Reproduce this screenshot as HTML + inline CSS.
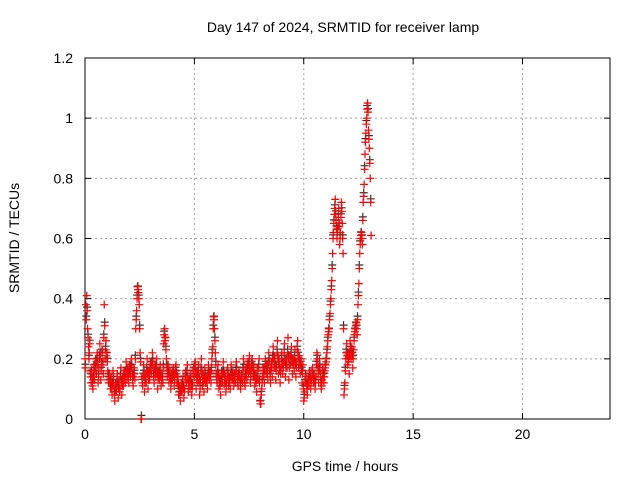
<!DOCTYPE html>
<html><head><meta charset="utf-8"><style>
body{margin:0;background:#fff}
svg text{font-family:"Liberation Sans",sans-serif;font-size:14px;fill:#000}
</style></head><body>
<svg id="c" width="640" height="480"></svg>
<script>
const xTicks=[0,5,10,15,20];
const yTicks=[0,0.2,0.4,0.6,0.8,1,1.2];
const yTickLabels=["0","0.2","0.4","0.6","0.8","1","1.2"];
const startHour=0, stepHour=0.04, startHour2=0.02;
const tecu=[
0.2,0.38,0.41,0.3,0.24,0.22,0.16,0.12,0.14,0.1,0.18,0.13,0.2,0.15,0.22,0.12,0.17,0.25,0.13,0.19,0.23,0.15,0.38,0.2,0.26,
0.22,0.16,0.12,0.15,0.1,0.14,0.08,0.16,0.11,0.06,0.12,0.09,0.15,0.07,0.13,0.1,0.17,0.08,0.14,0.11,0.16,0.12,0.19,0.13,0.17,
0.12,0.18,0.14,0.2,0.15,0.11,0.17,0.13,0.3,0.36,0.44,0.42,0.38,0.22,0.0,0.14,0.11,0.18,0.09,0.15,0.12,0.2,0.1,0.16,0.13,
0.19,0.15,0.22,0.17,0.12,0.18,0.14,0.2,0.1,0.16,0.13,0.18,0.11,0.15,0.12,0.25,0.3,0.27,0.2,0.14,0.18,0.12,0.16,0.1,0.15,
0.13,0.17,0.11,0.15,0.18,0.12,0.14,0.08,0.11,0.06,0.12,0.09,0.14,0.07,0.1,0.16,0.12,0.18,0.09,0.13,0.1,0.15,0.08,0.12,0.17,
0.14,0.19,0.1,0.16,0.12,0.18,0.08,0.13,0.2,0.11,0.15,0.09,0.17,0.12,0.14,0.1,0.18,0.13,0.16,0.12,0.2,0.24,0.34,0.3,0.22,
0.15,0.12,0.18,0.1,0.14,0.08,0.16,0.12,0.19,0.11,0.15,0.09,0.13,0.17,0.11,0.14,0.1,0.18,0.13,0.16,0.11,0.15,0.12,0.19,0.14,
0.11,0.16,0.13,0.1,0.15,0.12,0.2,0.14,0.11,0.17,0.13,0.19,0.15,0.21,0.12,0.16,0.2,0.14,0.18,0.11,0.15,0.09,0.17,0.13,0.2,
0.06,0.05,0.1,0.14,0.17,0.12,0.2,0.15,0.18,0.13,0.22,0.16,0.12,0.19,0.14,0.24,0.17,0.21,0.13,0.18,0.26,0.15,0.2,0.12,0.17,
0.22,0.15,0.19,0.25,0.14,0.2,0.17,0.27,0.13,0.21,0.18,0.24,0.15,0.2,0.16,0.23,0.14,0.19,0.26,0.17,0.21,0.15,0.2,0.12,0.18,
0.06,0.09,0.15,0.12,0.08,0.14,0.11,0.16,0.1,0.13,0.17,0.12,0.15,0.1,0.14,0.22,0.18,0.12,0.2,0.15,0.1,0.13,0.17,0.12,0.16,
0.18,0.2,0.24,0.28,0.3,0.35,0.4,0.46,0.55,0.62,0.68,0.73,0.66,0.6,0.64,0.7,0.58,0.62,0.72,0.65,0.55,0.08,0.12,0.2,0.25,
0.18,0.22,0.15,0.26,0.2,0.24,0.17,0.23,0.28,0.3,0.32,0.28,0.38,0.45,0.55,0.6,0.62,0.58,0.72,0.78,0.88,0.95,1.0,1.05,0.96,
0.9,0.8,0.61];
const tecu2=[
0.17,0.33,0.36,0.27,0.2,0.25,0.14,0.15,0.11,0.13,0.15,0.17,0.16,0.19,0.18,0.14,0.2,0.21,0.16,0.22,0.18,0.27,0.31,0.23,0.21,
0.19,0.13,0.14,0.12,0.12,0.1,0.11,0.13,0.08,0.09,0.1,0.12,0.11,0.1,0.09,0.14,0.12,0.11,0.12,0.14,0.13,0.15,0.16,0.15,0.14,
0.15,0.16,0.17,0.17,0.13,0.14,0.15,0.2,0.33,0.4,0.43,0.4,0.3,0.19,0.0,0.12,0.14,0.15,0.12,0.13,0.16,0.15,0.13,0.14,0.16,
0.17,0.18,0.19,0.14,0.15,0.16,0.17,0.15,0.13,0.14,0.15,0.14,0.13,0.13,0.17,0.28,0.26,0.23,0.17,0.16,0.15,0.14,0.13,0.12,0.14,
0.15,0.14,0.13,0.16,0.15,0.13,0.11,0.09,0.08,0.09,0.1,0.11,0.1,0.09,0.13,0.14,0.15,0.13,0.11,0.12,0.13,0.11,0.1,0.15,0.16,
0.17,0.15,0.13,0.14,0.15,0.13,0.1,0.16,0.15,0.13,0.12,0.13,0.14,0.13,0.12,0.14,0.15,0.14,0.14,0.16,0.22,0.3,0.33,0.26,0.18,
0.13,0.15,0.14,0.12,0.11,0.12,0.14,0.15,0.15,0.13,0.12,0.11,0.15,0.14,0.12,0.12,0.14,0.15,0.14,0.13,0.13,0.14,0.16,0.16,0.12,
0.14,0.14,0.11,0.13,0.13,0.16,0.17,0.12,0.14,0.15,0.16,0.17,0.18,0.16,0.14,0.18,0.17,0.16,0.14,0.13,0.12,0.13,0.15,0.17,0.12,
0.05,0.08,0.12,0.16,0.14,0.16,0.18,0.17,0.15,0.18,0.19,0.14,0.16,0.17,0.2,0.2,0.19,0.17,0.16,0.22,0.2,0.18,0.16,0.15,0.2,
0.18,0.17,0.22,0.19,0.17,0.19,0.22,0.2,0.17,0.2,0.21,0.19,0.18,0.18,0.2,0.18,0.17,0.23,0.21,0.19,0.18,0.18,0.16,0.15,0.1,
0.07,0.12,0.13,0.1,0.11,0.12,0.14,0.13,0.12,0.15,0.14,0.13,0.12,0.12,0.18,0.2,0.15,0.16,0.17,0.12,0.11,0.15,0.14,0.14,0.17,
0.19,0.22,0.26,0.29,0.33,0.38,0.43,0.5,0.6,0.65,0.7,0.68,0.63,0.62,0.67,0.64,0.6,0.67,0.69,0.6,0.3,0.1,0.16,0.22,0.21,
0.2,0.19,0.21,0.23,0.22,0.21,0.2,0.26,0.29,0.31,0.3,0.33,0.41,0.5,0.58,0.61,0.6,0.66,0.74,0.83,0.92,0.98,1.03,1.02,0.93,
0.85,0.72];
const L=85,R=610,T=58,B=419,XMAX=24,YMAX=1.2;
const sx=v=>L+v/XMAX*(R-L), sy=v=>B-v/YMAX*(B-T);
const svg=document.getElementById('c');const NS="http://www.w3.org/2000/svg";
function mk(t,a){const e=document.createElementNS(NS,t);for(const k in a)e.setAttribute(k,a[k]);svg.appendChild(e);return e;}
xTicks.forEach(v=>{
 if(v>0){const g=mk('line',{x1:sx(v),x2:sx(v),y1:T,y2:B,stroke:'#a0a0a0','stroke-dasharray':'2,3'});
 
 }
 mk('line',{x1:sx(v),x2:sx(v),y1:B,y2:B-6,stroke:'#000'});mk('line',{x1:sx(v),x2:sx(v),y1:T,y2:T+6,stroke:'#000'});
 const t=mk('text',{x:sx(v),y:B+20,'text-anchor':'middle'});t.textContent=v;
 
 
});
yTicks.forEach((v,i)=>{
 if(v>0&&v<YMAX){const g=mk('line',{x1:L,x2:R,y1:sy(v),y2:sy(v),stroke:'#a0a0a0','stroke-dasharray':'2,3'});
 
 }
 mk('line',{x1:L,x2:L+6,y1:sy(v),y2:sy(v),stroke:'#000'});mk('line',{x1:R,x2:R-6,y1:sy(v),y2:sy(v),stroke:'#000'});
 const t=mk('text',{x:L-12,y:sy(v)+5,'text-anchor':'end'});t.textContent=yTickLabels[i];
 
 
});
const fr=mk('rect',{x:L,y:T,width:R-L,height:B-T,fill:'none',stroke:'#000'});


function plus(h,v,col){
 const x=sx(h),y=sy(v);
 const p=mk('path',{d:`M${x-4},${y}H${x+4}M${x},${y-4}V${y+4}`,stroke:col,'stroke-width':1.2,fill:'none'});
 
 
}
tecu2.forEach((v,i)=>plus(startHour2+i*stepHour,v+0.012,'#333'));
tecu.forEach((v,i)=>plus(startHour+i*stepHour,v,'#f00'));
tecu2.forEach((v,i)=>plus(startHour2+i*stepHour,v,'#f00'));
const ti=mk('text',{x:343,y:32,'text-anchor':'middle'});ti.textContent='Day 147 of 2024, SRMTID for receiver lamp';


const xl=mk('text',{x:345,y:471,'text-anchor':'middle'});xl.textContent='GPS time / hours';


const yl=mk('text',{x:19,y:238,'text-anchor':'middle',transform:'rotate(-90 19 238)'});yl.textContent='SRMTID / TECUs';


</script>
</body></html>
